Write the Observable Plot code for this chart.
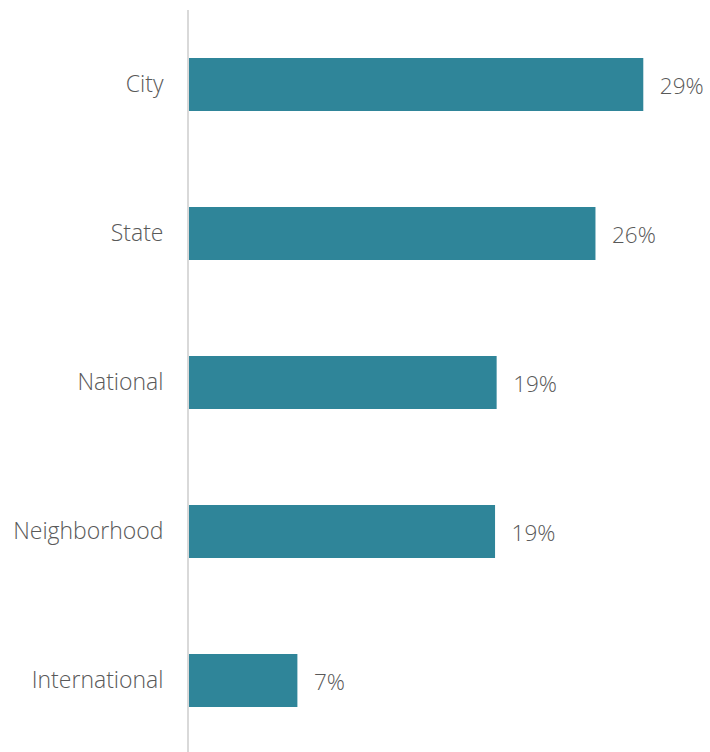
<!DOCTYPE html>
<html>
<head>
<meta charset="utf-8">
<script src="https://cdn.jsdelivr.net/npm/d3@7"></script>
<script src="https://cdn.jsdelivr.net/npm/@observablehq/plot@0.6"></script>
<style>
  html, body { margin: 0; padding: 0; background: #fff; }
  #chart svg { display: block; }
</style>
</head>
<body>
<div id="chart"></div>
<script>
const categories = ["City", "State", "National", "Neighborhood", "International"];
const values = [28.5, 25.5, 19.3, 19.2, 6.8];
const valueLabels = ["29%", "26%", "19%", "19%", "7%"];

const data = categories.map((c, i) => ({category: c, value: values[i], label: valueLabels[i]}));

const chart = Plot.plot({
  width: 710,
  height: 752,
  marginLeft: 189,
  marginRight: 42.8,
  marginTop: 10,
  marginBottom: 0,
  style: {fontFamily: "'Open Sans', sans-serif", fontSize: "23px", fontWeight: 300, color: "#595959", background: "#fff"},
  x: {domain: [0, 30], axis: null},
  y: {domain: categories, range: [9, 756], paddingInner: 0.647, paddingOuter: 0.3235, label: null, tickSize: 0, tickPadding: 26},
  marks: [
    Plot.barX(data, {x: "value", y: "category", fill: "#2f8599"}),
    Plot.ruleX([0], {stroke: "#d9d9d9", strokeWidth: 2, dx: -1.5}),
    Plot.text(data, {x: "value", y: "category", text: "label", textAnchor: "start", dx: 16, dy: 2, fill: "#595959", fontSize: 22.5, fontWeight: 300}),
    Plot.axisY({tickSize: 0, tickPadding: 26, fontSize: 23, fontWeight: 300, fill: "#595959", label: null})
  ]
});
document.getElementById("chart").appendChild(chart);
</script>
</body>
</html>
